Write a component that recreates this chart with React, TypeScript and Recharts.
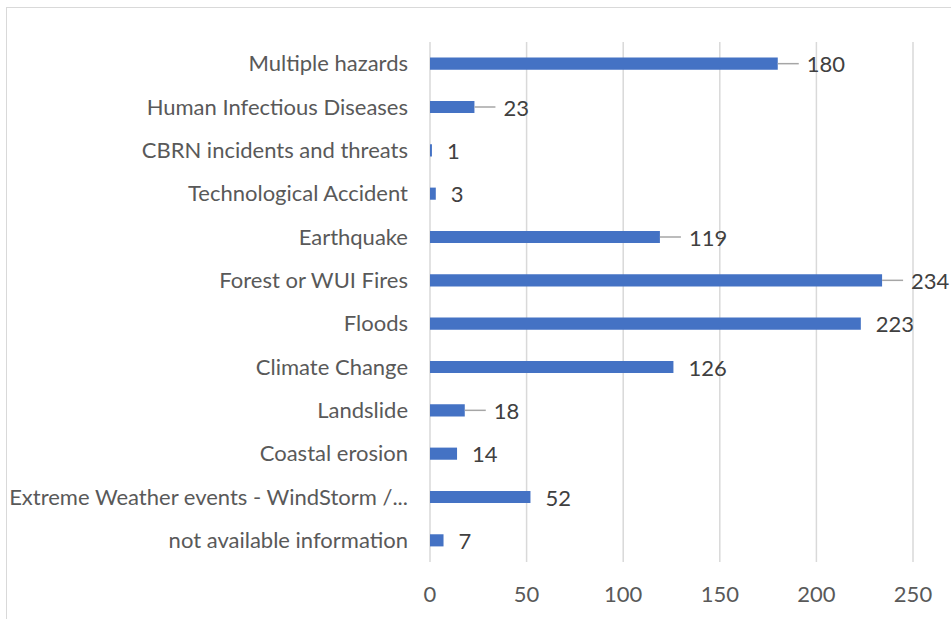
import { Bar, BarChart, CartesianGrid, LabelList, XAxis, YAxis } from "recharts";

const categories = [
  "Multiple hazards",
  "Human Infectious Diseases",
  "CBRN incidents and threats",
  "Technological Accident",
  "Earthquake",
  "Forest or WUI Fires",
  "Floods",
  "Climate Change",
  "Landslide",
  "Coastal erosion",
  "Extreme Weather events - WindStorm /...",
  "not available information",
];

const counts = [180, 23, 1, 3, 119, 234, 223, 126, 18, 14, 52, 7];

const xTicks = [0, 50, 100, 150, 200, 250];

// labels that Excel drew with a leader line
const withLeader = ["Multiple hazards", "Human Infectious Diseases", "Earthquake", "Forest or WUI Fires", "Landslide"];

const data = categories.map((name, i) => ({ name, value: counts[i] }));

const FONT = "Lato, 'Open Sans', sans-serif";

function ValueLabel(props: any) {
  const { x, y, width, height, value, index } = props;
  const end = x + width;
  const cy = y + height / 2;
  const leader = withLeader.includes(categories[index]);
  return (
    <g>
      {leader && <line x1={end} y1={cy} x2={end + 21} y2={cy} stroke="#a6a6a6" strokeWidth={1.5} />}
      <text x={end + (leader ? 29 : 15)} y={cy} dominantBaseline="central" fontSize={22} fontFamily={FONT} fill="#404040">
        {value}
      </text>
    </g>
  );
}

export default function App() {
  return (
    <div style={{ position: "fixed", left: 0, top: 0, width: 951, height: 619, overflow: "hidden", background: "#fff" }}>
      <div
        style={{
          position: "absolute",
          left: 6,
          top: 7,
          width: 960,
          height: 640,
          border: "1.5px solid #d9d9d9",
        }}
      />
      <div style={{ position: "absolute", left: 0, top: 0 }}>
        <BarChart
          width={951}
          height={619}
          data={data}
          layout="vertical"
          margin={{ top: 42, right: 38, bottom: 27, left: 0 }}
          barCategoryGap="64%"
        >
          <CartesianGrid horizontal={false} stroke="#d9d9d9" strokeWidth={1.5} />
          <XAxis
            type="number"
            domain={[0, 250]}
            ticks={xTicks}
            height={30}
            axisLine={false}
            tickLine={false}
            tickSize={6}
            tickMargin={18}
            tick={{ fontSize: 22, fontFamily: FONT, fill: "#595959" }}
          />
          <YAxis
            type="category"
            dataKey="name"
            width={430}
            axisLine={false}
            tickLine={false}
            tickSize={6}
            tickMargin={16}
            interval={0}
            tick={{ fontSize: 22, fontFamily: FONT, fill: "#595959" }}
          />
          <Bar dataKey="value" fill="#4472c4" isAnimationActive={false}>
            <LabelList dataKey="value" content={<ValueLabel />} />
          </Bar>
        </BarChart>
      </div>
    </div>
  );
}
